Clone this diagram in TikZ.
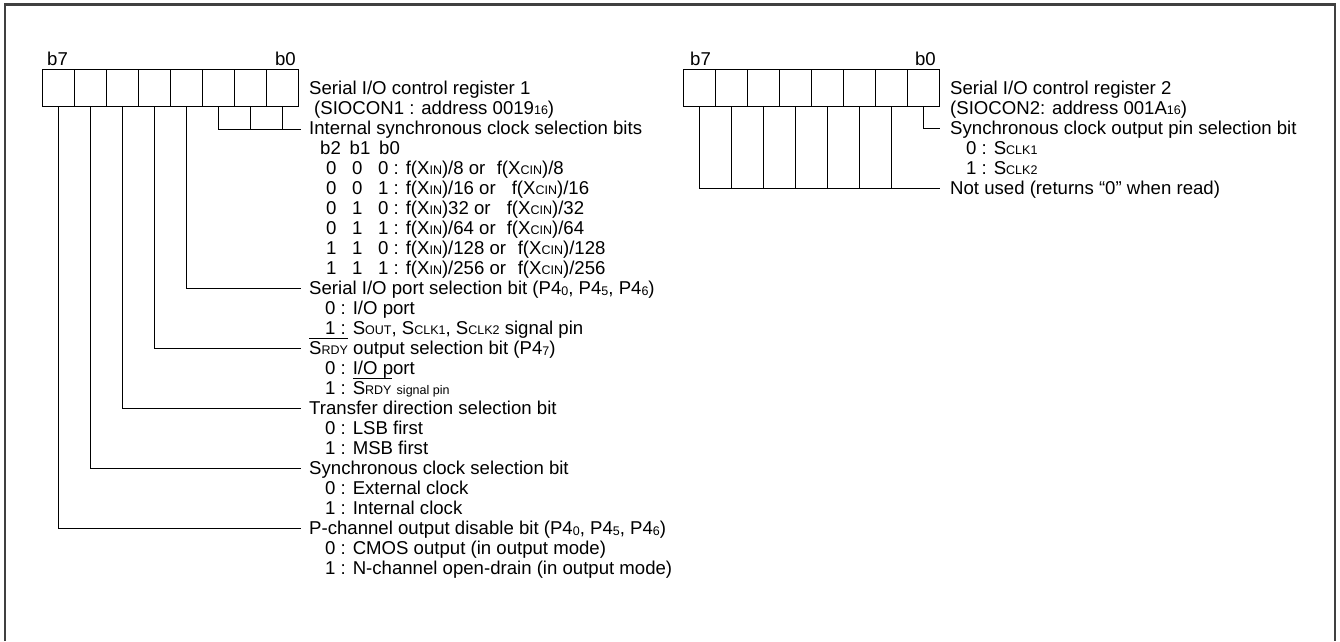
\documentclass[tikz,border=0pt]{standalone}
\usepackage{fontspec}
\setmainfont{Liberation Sans}
\newcommand\fs{\fontsize{18.6}{20}\selectfont}
\newcommand\sm[1]{{\fontsize{12.5}{13}\selectfont #1}}
\newcommand\psub[1]{\raisebox{-1pt}{\sm{#1}}}
\newcommand\ovl[1]{\setbox0=\hbox{#1}\rlap{\rule[\dimexpr\ht0+2.5pt\relax]{\wd0}{1pt}}\box0\relax}
\tikzset{
  cell/.style={draw=black, line width=1.3pt, minimum width=32pt, minimum height=37pt, inner sep=0pt},
  lbl/.style={anchor=west, inner sep=0pt, text height=13.2pt, text depth=0pt, font=\fs},
  lble/.style={lbl, anchor=east},
  wire/.style={line width=1pt, black},
  frame/.style={line width=2.5pt, black!75},
}
\begin{document}
\begin{tikzpicture}[x=1pt,y=-1pt]
\useasboundingbox (0,0) rectangle (1340,641);
% frame
\coordinate (fbl) at (5,641);
\coordinate (ftl) at (5,4.5);
\coordinate (ftr) at (1335,4.5);
\coordinate (fbr) at (1335,641);
\draw[frame] (fbl) -- (ftl) -- (ftr) -- (fbr);

% ---------------- register 1 ----------------
\foreach \i in {0,...,7}{
  \pgfmathtruncatemacro\b{7-\i}
  \node[cell] (a\b) at (58.7+32*\i,88) {};
}
\node[lbl] (a7l) at (47,59) {b7};
\node[lble] (a0l) at (296,59) {b0};

\node[lbl] (t0) at (309,88) {Serial I/O control register 1};
\node[lbl] (t1) at (314,108) {(SIOCON1 : address 0019\sm{16})};
\node[lbl] (t2) at (309,128) {Internal synchronous clock selection bits};
\node[lbl] (t3) at (320,148) {\makebox[29.5pt][l]{b2}\makebox[29.5pt][l]{b1}b0};
\node[lbl] (t4) at (326,168) {\makebox[26pt][l]{0}\makebox[26pt][l]{0}0 : \makebox[91pt][l]{f(X\sm{IN})/8 or}f(X\sm{CIN})/8};
\node[lbl] (t5) at (326,188) {\makebox[26pt][l]{0}\makebox[26pt][l]{0}1 : \makebox[106pt][l]{f(X\sm{IN})/16 or}f(X\sm{CIN})/16};
\node[lbl] (t6) at (326,208) {\makebox[26pt][l]{0}\makebox[26pt][l]{1}0 : \makebox[101pt][l]{f(X\sm{IN})32 or}f(X\sm{CIN})/32};
\node[lbl] (t7) at (326,228) {\makebox[26pt][l]{0}\makebox[26pt][l]{1}1 : \makebox[101pt][l]{f(X\sm{IN})/64 or}f(X\sm{CIN})/64};
\node[lbl] (t8) at (326,248) {\makebox[26pt][l]{1}\makebox[26pt][l]{1}0 : \makebox[112pt][l]{f(X\sm{IN})/128 or}f(X\sm{CIN})/128};
\node[lbl] (t9) at (326,268) {\makebox[26pt][l]{1}\makebox[26pt][l]{1}1 : \makebox[112pt][l]{f(X\sm{IN})/256 or}f(X\sm{CIN})/256};
\node[lbl] (t10) at (309,288) {Serial I/O port selection bit (P4\psub{0}, P4\psub{5}, P4\psub{6})};
\node[lbl] (t11) at (325,308) {0 : I/O port};
\node[lbl] (t12) at (325,328) {1 : S\sm{OUT}, S\sm{CLK1}, S\sm{CLK2} signal pin};
\node[lbl] (t13) at (309,348) {\ovl{S\sm{RDY}} output selection bit (P4\psub{7})};
\node[lbl] (t14) at (325,368) {0 : I/O port};
\node[lbl] (t15) at (325,388) {1 : \ovl{S\sm{RDY}} \sm{signal pin}};
\node[lbl] (t16) at (309,408) {Transfer direction selection bit};
\node[lbl] (t17) at (325,428) {0 : LSB first};
\node[lbl] (t18) at (325,448) {1 : MSB first};
\node[lbl] (t19) at (309,468) {Synchronous clock selection bit};
\node[lbl] (t20) at (325,488) {0 : External clock};
\node[lbl] (t21) at (325,508) {1 : Internal clock};
\node[lbl] (t22) at (309,528) {P-channel output disable bit (P4\psub{0}, P4\psub{5}, P4\psub{6})};
\node[lbl] (t23) at (325,548) {0 : CMOS output (in output mode)};
\node[lbl] (t24) at (325,568) {1 : N-channel open-drain (in output mode)};

% connectors register 1
\coordinate (brk) at (301,129);
\draw[wire] (a2.south) |- (brk);
\draw[wire] (a1.south) -- (a1.south |- brk);
\draw[wire] (a0.south) -- (a0.south |- brk);
\draw[wire] (a3.south) |- ([xshift=-8pt]t10.west);
\draw[wire] (a4.south) |- ([xshift=-8pt]t13.west);
\draw[wire] (a5.south) |- ([xshift=-8pt]t16.west);
\draw[wire] (a6.south) |- ([xshift=-8pt]t19.west);
\draw[wire] (a7.south) |- ([xshift=-8pt]t22.west);

% ---------------- register 2 ----------------
\foreach \i in {0,...,7}{
  \pgfmathtruncatemacro\b{7-\i}
  \node[cell] (c\b) at (699.8+32*\i,88) {};
}
\node[lbl] (c7l) at (690,59) {b7};
\node[lble] (c0l) at (936,59) {b0};

\node[lbl] (u0) at (950,88) {Serial I/O control register 2};
\node[lbl] (u1) at (950,108) {(SIOCON2: address 001A\sm{16})};
\node[lbl] (u2) at (950,128) {Synchronous clock output pin selection bit};
\node[lbl] (u3) at (966,148) {0 : S\sm{CLK1}};
\node[lbl] (u4) at (966,168) {1 : S\sm{CLK2}};
\node[lbl] (u5) at (950,188) {Not used (returns “0” when read)};

\draw[wire] (c0.south) |- ([xshift=-10pt]u2.west);
\draw[wire] (c7.south) |- ([xshift=-10pt]u5.west);
\foreach \b in {1,...,6}{
  \draw[wire] (c\b.south) -- (c\b.south |- u5.west);
}
\end{tikzpicture}
\end{document}
